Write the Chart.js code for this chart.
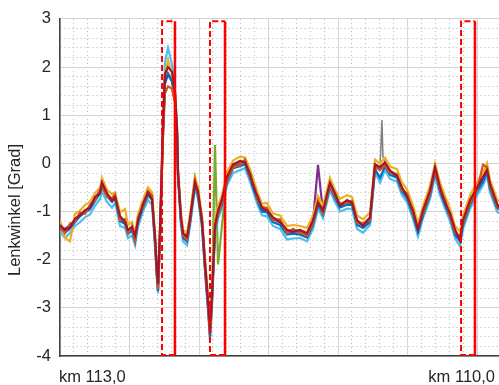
<!DOCTYPE html>
<html lang="de">
<head>
<meta charset="UTF-8">
<title>Lenkwinkel</title>
<style>
  html, body { margin: 0; padding: 0; background: #fff; }
  #chart { display: block; }
</style>
</head>
<body>
<canvas id="chart" width="499" height="385"></canvas>
<script src="https://cdn.jsdelivr.net/npm/chart.js@4/dist/chart.umd.min.js"></script>
<script>
// distance along the route in metres, 0 = km 113,0
const xs = [0,36,72,108,144,180,216,252,288,302,
  338,374,396,432,468,489,518,540,561,597,
  633,662,683,698,705,719,741,755,777,806,
  827,842,849,870,885,914,935,971,993,1022,
  1043,1065,1079,1093,1115,1137,1165,1201,1245,1295,
  1331,1367,1403,1424,1453,1489,1532,1583,1633,1676,
  1727,1777,1820,1856,1892,1942,1978,2014,2065,2101,
  2137,2180,2230,2266,2302,2338,2374,2424,2460,2496,
  2540,2575,2611,2662,2698,2734,2770,2806,2842,2878,
  2899,2950,3000,3043,3072,3093,3144,3158];

// steering angle per run [Grad]
const runDarkRed = [-1.28,-1.38,-1.33,-1.15,-1.08,-0.97,-0.92,-0.70,-0.62,-0.40,
  -0.62,-0.78,-0.70,-1.10,-1.22,-1.38,-1.32,-1.50,-1.20,-0.84,
  -0.60,-0.74,-1.50,-2.25,-2.50,-1.40,0.80,1.85,2.00,1.90,
  1.50,0.70,-0.20,-1.10,-1.45,-1.52,-1.15,-0.40,-0.58,-1.22,
  -2.05,-2.85,-3.45,-2.75,-1.28,-0.98,-0.75,-0.28,-0.02,0.05,
  0.02,-0.22,-0.58,-0.70,-0.92,-0.98,-1.12,-1.22,-1.38,-1.42,
  -1.38,-1.45,-1.18,-0.82,-0.98,-0.40,-0.62,-0.88,-0.76,-0.82,
  -1.18,-1.30,-1.12,-0.02,-0.08,0.02,-0.15,-0.26,-0.50,-0.68,
  -0.98,-1.38,-0.98,-0.56,-0.08,-0.50,-0.82,-1.04,-1.38,-1.60,
  -1.18,-0.76,-0.50,-0.28,-0.14,-0.42,-0.84,-0.92];
const runOrange = [-1.35,-1.45,-1.25,-1.20,-1.02,-1.05,-0.86,-0.76,-0.55,-0.45,
  -0.70,-0.72,-0.64,-1.18,-1.16,-1.45,-1.30,-1.60,-1.12,-0.90,
  -0.58,-0.66,-1.60,-2.35,-2.62,-1.55,0.55,1.45,1.60,1.55,
  1.25,0.55,-0.22,-1.18,-1.50,-1.58,-1.20,-0.35,-0.64,-1.16,
  -2.15,-2.95,-3.55,-2.85,-1.35,-1.04,-0.82,-0.35,-0.08,-0.04,
  0.08,-0.28,-0.52,-0.76,-0.90,-0.92,-1.18,-1.16,-1.45,-1.36,
  -1.44,-1.50,-1.24,-0.78,-1.04,-0.45,-0.68,-0.84,-0.82,-0.78,
  -1.24,-1.24,-1.18,-0.08,-0.14,-0.04,-0.20,-0.22,-0.56,-0.62,
  -1.04,-1.32,-1.04,-0.62,-0.14,-0.55,-0.76,-1.10,-1.44,-1.52,
  -1.24,-0.82,-0.55,-0.03,-0.08,-0.48,-0.88,-0.95];
const runBlue = [-1.32,-1.44,-1.35,-1.22,-1.10,-1.02,-0.95,-0.78,-0.62,-0.48,
  -0.68,-0.80,-0.72,-1.20,-1.26,-1.46,-1.40,-1.62,-1.22,-0.92,
  -0.66,-0.76,-1.62,-2.40,-2.65,-1.60,0.70,1.75,1.85,1.70,
  1.35,0.60,-0.25,-1.22,-1.55,-1.62,-1.24,-0.45,-0.66,-1.28,
  -2.20,-3.00,-3.60,-2.90,-1.38,-1.06,-0.86,-0.38,-0.10,-0.06,
  -0.02,-0.30,-0.62,-0.80,-1.00,-1.02,-1.22,-1.28,-1.48,-1.46,
  -1.48,-1.54,-1.28,-0.86,-1.06,-0.48,-0.72,-0.92,-0.86,-0.86,
  -1.28,-1.34,-1.22,-0.12,-0.30,-0.06,-0.24,-0.30,-0.58,-0.72,
  -1.08,-1.42,-1.08,-0.66,-0.18,-0.58,-0.86,-1.12,-1.48,-1.62,
  -1.28,-0.86,-0.58,-0.38,-0.18,-0.52,-0.92,-0.96];
const runLightBlue = [-1.42,-1.55,-1.44,-1.30,-1.22,-1.12,-1.06,-0.88,-0.74,-0.58,
  -0.80,-0.92,-0.82,-1.30,-1.34,-1.55,-1.50,-1.70,-1.32,-1.00,
  -0.76,-0.86,-1.72,-2.45,-2.70,-1.55,0.95,2.10,2.40,2.05,
  1.55,0.75,-0.30,-1.28,-1.62,-1.70,-1.32,-0.52,-0.74,-1.36,
  -2.25,-3.08,-3.68,-2.98,-1.46,-1.14,-0.94,-0.46,-0.20,-0.14,
  -0.10,-0.38,-0.70,-0.88,-1.08,-1.10,-1.30,-1.36,-1.58,-1.56,
  -1.55,-1.62,-1.36,-0.94,-1.14,-0.56,-0.80,-1.00,-0.94,-0.95,
  -1.36,-1.44,-1.28,-0.18,-0.40,-0.14,-0.32,-0.38,-0.66,-0.80,
  -1.16,-1.52,-1.14,-0.74,-0.26,-0.66,-0.94,-1.20,-1.56,-1.72,
  -1.36,-0.94,-0.66,-0.46,-0.26,-0.60,-1.00,-1.04];
const runYellow = [-1.18,-1.55,-1.62,-1.05,-0.98,-0.86,-0.80,-0.62,-0.50,-0.30,
  -0.55,-0.64,-0.60,-1.02,-0.95,-1.28,-1.22,-1.45,-1.05,-0.76,
  -0.50,-0.60,-1.40,-2.18,-2.42,-1.30,0.80,1.85,2.15,1.85,
  1.50,0.75,-0.10,-1.00,-1.38,-1.45,-1.05,-0.28,-0.50,-1.10,
  -1.95,-2.75,-3.35,-2.65,-1.15,-0.88,-0.66,-0.18,0.06,0.14,
  0.12,-0.12,-0.44,-0.62,-0.84,-0.82,-1.04,-1.08,-1.30,-1.28,
  -1.30,-1.34,-1.08,-0.68,-0.88,-0.30,-0.55,-0.74,-0.66,-0.70,
  -1.08,-1.16,-1.02,0.08,0.00,0.12,-0.06,-0.12,-0.40,-0.54,
  -0.88,-1.24,-0.88,-0.46,0.00,-0.40,-0.68,-0.94,-1.30,-1.42,
  -1.08,-0.66,-0.40,-0.20,0.00,-0.34,-0.74,-0.80];
const runPurple = [-1.34,-1.36,-1.28,-1.19,-1.04,-1.03,-0.88,-0.75,-0.61,-0.44,
  -0.67,-0.77,-0.70,-1.16,-1.23,-1.43,-1.33,-1.57,-1.19,-0.88,
  -0.64,-0.72,-1.57,-2.32,-2.60,-1.52,0.62,1.65,1.85,1.70,
  1.38,0.62,-0.19,-1.16,-1.49,-1.57,-1.19,-0.40,-0.62,-1.22,
  -2.12,-2.92,-3.52,-2.82,-1.32,-1.02,-0.81,-0.33,-0.06,-0.02,
  0.03,-0.26,-0.57,-0.75,-0.96,-0.97,-1.16,-1.22,-1.43,-1.42,
  -1.42,-1.49,-1.22,-0.03,-1.02,-0.44,-0.67,-0.88,-0.81,-0.82,
  -1.22,-1.29,-1.16,-0.06,-0.13,-0.02,-0.19,-0.26,-0.54,-0.67,
  -1.02,-1.37,-1.02,-0.61,-0.13,-0.54,-0.81,-1.08,-1.43,-1.57,
  -1.22,-0.81,-0.54,-0.33,-0.13,-0.47,-0.88,-0.92];
const runGreen = [-1.27,-1.40,-1.31,-1.16,-1.07,-0.99,-0.91,-0.72,-0.58,-0.43,
  -0.64,-0.74,-0.69,-1.13,-1.19,-1.40,-1.36,-1.54,-1.16,-0.85,
  -0.63,-0.69,-1.54,-2.28,-2.55,-1.48,0.66,1.68,1.88,1.74,
  1.41,0.66,-0.16,-1.13,-1.46,-1.54,-1.16,-0.30,-0.59,-1.19,
  -2.08,-2.88,-3.48,-2.78,0.38,-2.10,-1.30,-0.30,-0.03,0.01,
  0.06,-0.23,-0.54,-0.72,-0.93,-0.94,-1.13,-1.19,-1.40,-1.39,
  -1.39,-1.46,-1.19,-0.79,-0.99,-0.41,-0.64,-0.85,-0.78,-0.79,
  -1.19,-1.26,-1.13,-0.03,-0.10,0.01,-0.16,-0.23,-0.51,-0.64,
  -0.99,-1.34,-0.99,-0.58,-0.10,-0.51,-0.78,-1.05,-1.40,-1.54,
  -1.19,-0.78,-0.51,-0.30,-0.10,-0.44,-0.85,-0.89];
// short gray run, mostly hidden, with one spike
const grayX = [2230,2266,2302,2316,2323,2338,2374];
const grayY = [-1.12,-0.05,-0.10,0.90,0.15,0.00,-0.16];

// marked sections (metres)
const boxLeft = [734, 1079, 2885];
const boxRight = [827, 1187, 2985];
const boxTop = 2.95;
const boxBottom = -3.98;

const yTickLabels = ["-4", "-3", "-2", "-1", "0", "1", "2", "3"];
const xLabelStart = "km 113,0";
const xLabelEnd = "km 110,0";
const yTitle = "Lenkwinkel [Grad]";

const pts = (xArr, yArr) => xArr.map((x, i) => ({ x: x, y: yArr[i] }));
const isMajor = (v, step) => Math.abs(v / step - Math.round(v / step)) < 1e-6;

const datasets = [];
// boxes on top: dashed left/top/bottom, solid right edge
for (let i = 0; i < boxLeft.length; i++) {
    datasets.push({
        data: [{x: boxRight[i], y: boxBottom}, {x: boxLeft[i], y: boxBottom},
               {x: boxLeft[i], y: boxTop}, {x: boxRight[i], y: boxTop}],
        borderColor: "#ff0000", borderWidth: 2, borderDash: [6, 3]
    });
    datasets.push({
        data: [{x: boxRight[i], y: boxTop}, {x: boxRight[i], y: boxBottom}],
        borderColor: "#ff0000", borderWidth: 2.5
    });
}
const runs = [
    [runDarkRed, "#a2142f"],
    [runOrange, "#d95319"],
    [runBlue, "#0072bd"],
    [runYellow, "#edb120"],
    [runLightBlue, "#4dbeee"],
    [runPurple, "#7e2f8e"],
    [runGreen, "#77ac30"]
];
for (const [vals, col] of runs) {
    datasets.push({ data: pts(xs, vals), borderColor: col, borderWidth: 2.2 });
}
datasets.push({ data: pts(grayX, grayY), borderColor: "#7f7f7f", borderWidth: 1.5 });

const labelsPlugin = {
    id: "labels",
    afterDraw(chart) {
        const ctx = chart.ctx;
        const area = chart.chartArea;
        ctx.save();
        ctx.font = "16.5px 'Liberation Sans', Arial, sans-serif";
        ctx.fillStyle = "#262626";
        ctx.textBaseline = "alphabetic";
        ctx.textAlign = "left";
        ctx.fillText(xLabelStart, area.left - 1, 382);
        ctx.textAlign = "right";
        ctx.fillText(xLabelEnd, 495, 382);
        ctx.translate(20, 210);
        ctx.rotate(-Math.PI / 2);
        ctx.textAlign = "center";
        ctx.fillText(yTitle, 0, 0);
        ctx.restore();
    }
};

new Chart(document.getElementById("chart"), {
    type: "line",
    data: { datasets: datasets },
    options: {
        responsive: false,
        animation: false,
        devicePixelRatio: 1,
        layout: { padding: { top: 15, right: 0, left: 0, bottom: 0 } },
        elements: { point: { radius: 0 }, line: { tension: 0 } },
        plugins: { legend: { display: false }, tooltip: { enabled: false } },
        scales: {
            x: {
                type: "linear",
                min: 0,
                max: 3158,
                afterFit: s => { s.height = 29; },
                ticks: { display: false, stepSize: 100, autoSkip: false, maxTicksLimit: 1000 },
                grid: {
                    drawTicks: false,
                    lineWidth: 1,
                    color: c => c.tick && c.tick.value % 100 === 0
                        ? (isMajor(c.tick.value, 500) ? "#d4d4d4" : "#b8b8b8")
                        : "rgba(0,0,0,0)"
                },
                border: {
                    color: "#404040", width: 1.5,
                    dash: c => (c.tick && !isMajor(c.tick.value, 500)) ? [1, 3] : []
                }
            },
            y: {
                min: -4,
                max: 3,
                afterFit: s => { s.width = 60; },
                ticks: {
                    stepSize: 0.2,
                    autoSkip: false,
                    maxTicksLimit: 1000,
                    padding: 9,
                    color: "#262626",
                    font: { family: "'Liberation Sans', Arial, sans-serif", size: 16.5 },
                    callback: v => isMajor(v, 1) ? yTickLabels[Math.round(v) + 4] : ""
                },
                grid: {
                    drawTicks: false,
                    lineWidth: 1,
                    color: c => c.tick && isMajor(c.tick.value, 1) ? "#d4d4d4" : "#b8b8b8"
                },
                border: {
                    color: "#404040", width: 1.5,
                    dash: c => (c.tick && !isMajor(c.tick.value, 1)) ? [1, 3] : []
                }
            }
        }
    },
    plugins: [labelsPlugin]
});
</script>
</body>
</html>
